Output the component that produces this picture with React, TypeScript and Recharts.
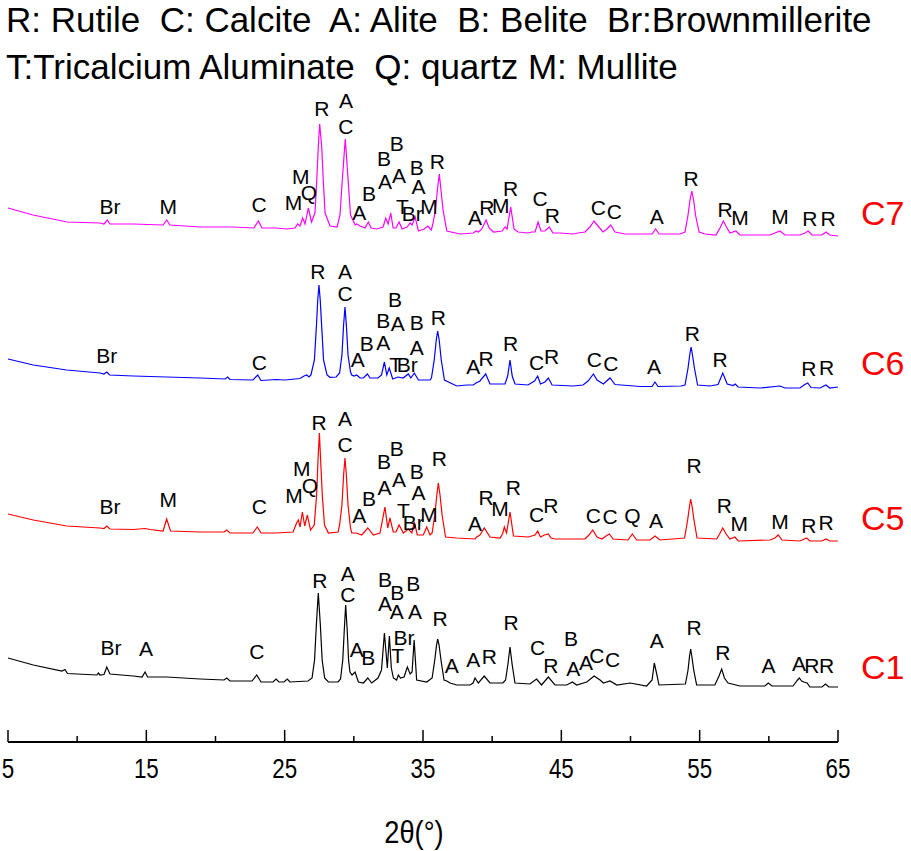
import React from "react";
import { ComposedChart, Line, Scatter, XAxis, YAxis } from "recharts";

// 2θ (deg) vs intensity; each pattern is lifted by its offset
const c1Offset = 0;
const c5Offset = 150;
const c6Offset = 300;
const c7Offset = 450;

const xTicks = [5, 10, 15, 20, 25, 30, 35, 40, 45, 50, 55, 60, 65];

const c7Points: [number, number][] = [
  [5.0, 84], [6.81, 77], [9.27, 70], [11.65, 69], [11.94, 68], [12.18, 72], [12.37, 68], [14.04, 68],
  [16.21, 67], [16.47, 72], [16.71, 67], [18.88, 65], [21.27, 65], [22.78, 64], [23.1, 71], [23.36, 64],
  [24.38, 64], [25.16, 63], [25.75, 64], [25.94, 68], [26.11, 66], [26.3, 74], [26.47, 68], [26.71, 84],
  [26.94, 70], [27.19, 79], [27.32, 112], [27.43, 145], [27.53, 168], [27.68, 145], [27.79, 112], [27.92, 79],
  [28.28, 66], [28.79, 65], [29.0, 77], [29.14, 107], [29.27, 132], [29.38, 153], [29.49, 132], [29.61, 107],
  [29.76, 77], [30.09, 67], [30.21, 68], [30.45, 66], [30.81, 64], [31.05, 70], [31.25, 64], [31.66, 63],
  [32.11, 65], [32.31, 74], [32.48, 68], [32.67, 79], [32.84, 64], [33.05, 64], [33.27, 70], [33.49, 63],
  [33.85, 65], [34.07, 69], [34.21, 67], [34.43, 75], [34.67, 61], [35.08, 63], [35.35, 66], [35.59, 62],
  [35.68, 66], [35.9, 82], [36.04, 102], [36.18, 118], [36.3, 102], [36.45, 82], [36.72, 61], [37.68, 58],
  [38.64, 59], [38.83, 61], [39.01, 60], [39.25, 63], [39.56, 72], [39.78, 64], [40.09, 60], [40.72, 61],
  [40.94, 65], [41.08, 63], [41.34, 85], [41.58, 63], [41.87, 60], [42.59, 59], [42.88, 60], [43.1, 60],
  [43.32, 70], [43.53, 61], [43.81, 61], [44.13, 65], [44.39, 59], [44.9, 59], [45.84, 58], [46.2, 59],
  [46.71, 60], [47.07, 65], [47.36, 71], [47.65, 66], [48.01, 60], [48.3, 63], [48.57, 67], [48.88, 60],
  [49.61, 58], [50.69, 58], [51.56, 58], [51.82, 63], [52.06, 58], [53.58, 58], [53.94, 60], [54.16, 77],
  [54.3, 92], [54.43, 101], [54.56, 92], [54.7, 77], [54.96, 60], [55.39, 58], [56.18, 57], [56.47, 64],
  [56.71, 71], [56.9, 66], [57.19, 59], [57.62, 61], [57.91, 57], [59.36, 57], [60.08, 57], [60.44, 59],
  [60.8, 61], [61.17, 57], [62.25, 57], [62.61, 59], [62.85, 61], [63.12, 57], [63.84, 57], [64.13, 60],
  [64.41, 57], [65.0, 56],
];

const c6Points: [number, number][] = [
  [5.0, 83], [6.83, 77], [9.24, 72], [11.65, 69], [11.94, 68], [12.14, 70], [12.34, 67], [14.06, 66],
  [16.47, 65], [18.88, 64], [20.69, 63], [20.88, 65], [21.05, 62.5], [22.71, 62], [23.05, 67], [23.29, 61.5],
  [24.38, 62.5], [25.03, 62], [26.11, 63.5], [26.4, 66], [26.59, 67], [26.76, 65], [26.9, 67], [27.15, 82],
  [27.3, 117], [27.39, 142], [27.48, 157], [27.57, 142], [27.67, 117], [27.81, 82], [28.06, 67], [28.28, 64.7],
  [28.72, 65], [28.97, 69], [29.14, 87], [29.26, 117], [29.36, 135], [29.46, 117], [29.58, 87], [29.76, 70],
  [29.85, 67], [30.01, 66], [30.21, 67], [30.45, 64], [30.69, 64], [30.98, 68], [31.17, 64], [31.75, 64],
  [32.0, 67], [32.21, 80], [32.38, 67], [32.56, 74], [32.81, 63], [33.19, 65], [33.56, 64], [33.94, 68],
  [34.12, 64], [34.37, 69], [34.67, 62], [35.51, 62], [35.61, 64], [35.81, 82], [35.96, 102], [36.06, 111],
  [36.17, 102], [36.32, 82], [36.55, 62], [37.44, 56], [38.16, 57], [38.64, 57], [38.83, 59], [39.12, 61],
  [39.53, 68], [39.84, 58], [40.57, 58], [40.93, 58], [41.12, 66], [41.29, 82], [41.45, 66], [41.65, 58],
  [42.59, 57], [43.06, 61], [43.29, 66], [43.49, 58], [43.82, 60], [44.06, 64], [44.33, 57], [45.85, 56],
  [46.57, 57], [46.93, 61], [47.32, 68], [47.58, 62], [48.04, 58], [48.52, 64], [48.88, 57.5], [50.69, 55.5],
  [51.56, 55.5], [51.77, 60], [51.99, 55.5], [53.65, 56], [53.94, 57], [54.16, 74], [54.28, 87], [54.38, 95],
  [54.48, 87], [54.62, 74], [54.85, 57], [55.75, 56], [56.33, 57.5], [56.67, 69], [56.99, 58], [57.42, 56.5],
  [57.57, 58], [57.78, 55], [59.36, 54], [60.8, 56], [61.17, 54], [62.25, 54], [62.54, 57], [62.81, 59],
  [63.05, 54.5], [63.7, 54], [64.13, 57], [64.41, 54], [65.0, 55],
];

const c5Points: [number, number][] = [
  [5.0, 78], [6.83, 72], [9.24, 66], [11.65, 64], [11.94, 63.5], [12.14, 66], [12.37, 63], [14.04, 62.5],
  [14.91, 63.5], [15.27, 62.5], [16.21, 61], [16.47, 73], [16.75, 61], [18.88, 60], [20.62, 60], [20.81, 62],
  [21.05, 59], [22.71, 59], [23.02, 65], [23.29, 59], [24.38, 59], [25.61, 60], [25.86, 69], [25.99, 72],
  [26.11, 65], [26.28, 80], [26.45, 66], [26.64, 77], [26.87, 62], [27.14, 67], [27.31, 97], [27.41, 132],
  [27.51, 159], [27.6, 132], [27.72, 97], [27.88, 67], [28.16, 59], [28.86, 60], [28.97, 67], [29.14, 87],
  [29.26, 117], [29.36, 134], [29.46, 117], [29.58, 87], [29.76, 64], [29.85, 59], [30.16, 59], [30.57, 57],
  [31.01, 64], [31.41, 57], [31.89, 59], [32.25, 85], [32.45, 64], [32.61, 74], [32.85, 60], [33.05, 60],
  [33.27, 67], [33.58, 59], [33.94, 63], [34.19, 59], [34.37, 70], [34.59, 57], [35.02, 57], [35.27, 65],
  [35.51, 57], [35.66, 59], [35.85, 77], [36.0, 97], [36.11, 109], [36.23, 97], [36.38, 77], [36.63, 55],
  [37.44, 54], [38.76, 53], [38.88, 55], [39.12, 57], [39.43, 64], [39.84, 55], [40.57, 54], [40.75, 58],
  [40.88, 65], [41.04, 59], [41.29, 80], [41.54, 56], [42.61, 55], [43.1, 57], [43.29, 61], [43.49, 55],
  [43.78, 57], [44.06, 58], [44.25, 54], [44.54, 53], [46.71, 53], [47.0, 57], [47.27, 62], [47.58, 55],
  [47.94, 53], [48.23, 56], [48.47, 58], [48.74, 53], [49.82, 52], [50.13, 58], [50.45, 52], [51.41, 52],
  [51.77, 56], [52.13, 52], [53.91, 54], [54.13, 72], [54.26, 85], [54.35, 93], [54.46, 85], [54.59, 72],
  [54.81, 54], [56.23, 53], [56.44, 58], [56.67, 64], [56.91, 58], [57.19, 53], [57.55, 55], [57.79, 51],
  [60.08, 52], [60.44, 54], [60.68, 57], [60.95, 52], [62.25, 51], [62.73, 54], [62.97, 51], [63.84, 51],
  [64.13, 53], [64.41, 51], [65.0, 51],
];

const c1Points: [number, number][] = [
  [5.0, 84], [6.83, 77], [8.9, 71], [9.12, 72.5], [9.3, 68.5], [11.43, 67], [11.53, 69], [11.65, 67],
  [11.94, 67.5], [12.14, 75], [12.37, 68], [14.06, 66], [14.69, 65], [14.91, 70], [15.09, 65], [15.99, 65],
  [16.47, 65], [18.88, 63], [20.62, 62], [20.81, 64], [21.05, 61], [22.64, 61], [22.98, 67], [23.29, 60],
  [24.16, 60], [24.38, 63], [24.59, 60], [24.95, 60], [25.19, 63], [25.38, 60], [26.69, 61], [26.98, 64],
  [27.16, 82], [27.29, 117], [27.43, 149], [27.58, 117], [27.71, 82], [27.89, 64], [28.16, 60], [28.86, 60],
  [29.04, 63], [29.2, 82], [29.31, 112], [29.41, 137], [29.52, 112], [29.62, 82], [29.72, 70], [29.87, 67],
  [30.09, 70], [30.33, 60], [30.69, 59], [31.01, 64], [31.29, 59], [31.75, 64], [32.0, 72], [32.21, 109],
  [32.42, 74], [32.57, 106], [32.71, 74], [32.86, 64], [33.09, 62], [33.22, 67], [33.37, 64], [33.63, 65],
  [33.87, 75], [34.07, 68], [34.21, 70], [34.36, 102], [34.54, 62], [35.27, 60], [35.66, 64], [35.85, 82],
  [35.98, 97], [36.06, 103], [36.16, 97], [36.3, 82], [36.52, 62], [36.72, 61], [36.95, 59], [37.44, 57],
  [38.4, 57], [38.62, 59], [38.76, 64], [39.0, 59], [39.43, 66], [39.84, 59], [40.78, 59], [40.97, 62],
  [41.13, 77], [41.29, 95], [41.45, 77], [41.65, 59], [42.73, 58], [43.21, 63], [43.57, 57], [44.06, 65],
  [44.54, 57], [45.39, 57], [45.8, 60], [46.11, 57], [46.84, 60], [47.37, 66], [47.8, 62], [48.04, 59],
  [48.52, 61], [49.01, 57], [49.97, 59], [51.17, 56], [51.56, 62], [51.72, 79], [51.88, 69], [52.06, 57],
  [53.97, 58], [54.16, 72], [54.26, 85], [54.35, 93], [54.44, 85], [54.57, 72], [54.78, 57], [56.1, 57],
  [56.4, 66], [56.59, 73], [56.79, 64], [57.05, 59], [57.91, 56], [59.72, 56], [59.96, 59], [60.23, 56],
  [61.75, 56], [62.08, 62], [62.21, 64], [62.37, 61], [62.54, 60], [62.77, 59], [62.97, 55], [63.84, 55],
  [64.1, 58], [64.34, 55], [65.0, 55],
];

// phase marks: [2θ, intensity, phase]
const c7Labels: [number, number, string][] = [
  [12.37, 86, "Br"], [16.59, 86, "M"], [23.15, 88, "C"], [25.63, 90, "M"], [26.16, 116, "M"], [26.76, 100, "Q"],
  [27.68, 184, "R"], [29.43, 192, "A"], [29.43, 166, "C"], [30.4, 80, "A"], [31.1, 99, "B"], [32.26, 111, "A"],
  [32.18, 134, "B"], [33.1, 149, "B"], [33.27, 117, "A"], [33.51, 86, "T"], [34.23, 79, "Br"], [34.55, 125, "B"],
  [34.67, 106, "A"], [35.44, 86, "M"], [36.04, 131, "R"], [38.76, 75, "A"], [39.61, 85, "R"], [40.62, 87, "M"],
  [41.34, 104, "R"], [43.46, 94, "C"], [44.35, 77, "R"], [47.67, 85, "C"], [48.83, 81, "C"], [51.9, 76, "A"],
  [54.38, 114, "R"], [56.83, 83, "R"], [57.91, 75, "M"], [60.8, 76, "M"], [62.97, 74, "R"], [64.29, 74, "R"],
];

const c6Labels: [number, number, string][] = [
  [12.14, 87, "Br"], [23.17, 80, "C"], [27.39, 171, "R"], [29.36, 171, "A"], [29.36, 149, "C"], [30.28, 83, "A"],
  [30.93, 99, "B"], [32.13, 100, "A"], [32.13, 122, "B"], [32.98, 143, "B"], [33.17, 119, "A"], [33.03, 78, "T"],
  [33.87, 78, "Br"], [34.55, 95, "A"], [34.55, 120, "B"], [36.11, 125, "R"], [38.64, 76, "A"], [39.56, 84, "R"],
  [41.34, 99, "R"], [43.22, 80, "C"], [44.3, 86, "R"], [47.38, 83, "C"], [48.57, 79, "C"], [51.7, 76, "A"],
  [54.47, 109, "R"], [56.47, 83, "R"], [62.9, 74, "R"], [64.18, 75, "R"],
];

const c5Labels: [number, number, string][] = [
  [12.37, 86, "Br"], [16.59, 93, "M"], [23.17, 86, "C"], [25.68, 97, "M"], [26.23, 124, "M"], [26.83, 107, "Q"],
  [27.48, 170, "R"], [29.36, 174, "A"], [29.36, 148, "C"], [30.4, 77, "A"], [31.1, 94, "B"], [32.21, 105, "A"],
  [32.18, 131, "B"], [33.1, 144, "B"], [33.27, 113, "A"], [33.58, 82, "T"], [34.3, 70, "Br"], [34.55, 121, "B"],
  [34.67, 100, "A"], [35.44, 78, "M"], [36.18, 134, "R"], [38.76, 69, "A"], [39.56, 95, "R"], [40.57, 84, "M"],
  [41.53, 105, "R"], [43.22, 78, "C"], [44.25, 87, "R"], [47.31, 77, "C"], [48.52, 76, "C"], [50.13, 77, "Q"],
  [51.85, 72, "A"], [54.59, 127, "R"], [56.78, 87, "R"], [57.86, 69, "M"], [60.8, 71, "M"], [62.9, 67, "R"],
  [64.13, 70, "R"],
];

const c1Labels: [number, number, string][] = [
  [12.45, 95, "Br"], [14.98, 94, "A"], [22.98, 91, "C"], [27.55, 162, "R"], [29.56, 169, "A"], [29.56, 148, "C"],
  [30.21, 93, "A"], [31.05, 85, "B"], [32.25, 163, "B"], [32.25, 139, "A"], [33.14, 150, "B"], [33.1, 131, "A"],
  [34.3, 159, "B"], [34.42, 131, "A"], [33.63, 105, "Br"], [33.17, 87, "T"], [36.23, 124, "R"], [37.07, 77, "A"],
  [38.64, 83, "A"], [39.8, 86, "R"], [41.37, 120, "R"], [43.29, 95, "C"], [44.25, 77, "R"], [45.7, 104, "B"],
  [45.87, 74, "A"], [46.78, 80, "A"], [47.56, 87, "C"], [48.71, 83, "C"], [51.9, 102, "A"], [54.59, 115, "R"],
  [56.67, 90, "R"], [59.97, 77, "A"], [62.18, 79, "A"], [63.1, 77, "R"], [64.18, 77, "R"],
];

const legendLines = [
  "R: Rutile  C: Calcite  A: Alite  B: Belite  Br:Brownmillerite",
  "T:Tricalcium Aluminate  Q: quartz M: Mullite",
];

const ARIAL = "'Liberation Sans', Arial, Helvetica, sans-serif";

const toSeries = (pts: [number, number][], off: number) => pts.map(([x, y]) => ({ x, y: y + off }));
const toLabels = (pts: [number, number, string][], off: number) =>
  pts.map(([x, y, t]) => ({ x, y: y + off, t }));

const PeakLabel = (props: any) => {
  const { cx, cy, payload } = props;
  if (cx == null || cy == null) return null;
  return (
    <text
      x={cx}
      y={cy}
      textAnchor="middle"
      dominantBaseline="central"
      fontSize={21}
      fontFamily={ARIAL}
      fill="#000"
    >
      {payload.t}
    </text>
  );
};

// ticks point inward; labels are drawn condensed like the original
const AxisTick = (props: any) => {
  const { x, y, payload } = props;
  const major = (payload.value - 5) % 10 === 0;
  return (
    <g>
      <line x1={x} y1={y} x2={x} y2={y - (major ? 12 : 6)} stroke="#000" strokeWidth={1.5} />
      {major && (
        <text
          transform={`translate(${x},${y + 36}) scale(0.8,1)`}
          textAnchor="middle"
          fontSize={28}
          fontFamily={ARIAL}
          fill="#000"
        >
          {payload.value}
        </text>
      )}
    </g>
  );
};

const traces = [
  { name: "C7", pts: c7Points, labels: c7Labels, off: c7Offset, color: "#FF00FF", labelTop: 213 },
  { name: "C6", pts: c6Points, labels: c6Labels, off: c6Offset, color: "#0000FF", labelTop: 363 },
  { name: "C5", pts: c5Points, labels: c5Labels, off: c5Offset, color: "#FF0000", labelTop: 518 },
  { name: "C1", pts: c1Points, labels: c1Labels, off: c1Offset, color: "#000000", labelTop: 667 },
];

export default function App() {
  return (
    <div style={{ position: "absolute", left: 0, top: 0, width: 911, height: 851, background: "#fff" }}>
      <ComposedChart width={911} height={851} margin={{ top: 0, right: 73, bottom: 0, left: 8 }}>
        <XAxis
          type="number"
          dataKey="x"
          domain={[5, 65]}
          ticks={xTicks}
          interval={0}
          tickLine={false}
          tickSize={0}
          tickMargin={0}
          tick={<AxisTick />}
          axisLine={{ stroke: "#000", strokeWidth: 2 }}
          height={109}
        />
        <YAxis type="number" dataKey="y" domain={[0, 742]} hide />
        {traces.map((tr) => (
          <Line
            key={tr.name}
            data={toSeries(tr.pts, tr.off)}
            dataKey="y"
            type="linear"
            stroke={tr.color}
            strokeWidth={1.2}
            dot={false}
            activeDot={false}
            isAnimationActive={false}
          />
        ))}
        {traces.map((tr) => (
          <Scatter
            key={tr.name + "-lab"}
            data={toLabels(tr.labels, tr.off)}
            dataKey="y"
            shape={<PeakLabel />}
            isAnimationActive={false}
          />
        ))}
      </ComposedChart>

      {legendLines.map((t, i) => (
        <div
          key={i}
          style={{
            position: "absolute",
            left: 6,
            top: 2 + i * 47,
            fontFamily: ARIAL,
            fontSize: 35,
            lineHeight: "35px",
            whiteSpace: "pre",
            color: "#000",
          }}
        >
          {t}
        </div>
      ))}

      {traces.map((tr) => (
        <div
          key={tr.name + "-name"}
          style={{
            position: "absolute",
            left: 861,
            top: tr.labelTop - 18,
            fontFamily: ARIAL,
            fontSize: 34,
            lineHeight: "36px",
            color: "#FF0000",
          }}
        >
          {tr.name}
        </div>
      ))}

      <div
        style={{
          position: "absolute",
          left: 314,
          width: 200,
          top: 814,
          textAlign: "center",
          fontFamily: ARIAL,
          fontSize: 32,
          lineHeight: "36px",
          color: "#000",
          transform: "scaleX(0.85)",
        }}
      >
        2θ(°)
      </div>
    </div>
  );
}
